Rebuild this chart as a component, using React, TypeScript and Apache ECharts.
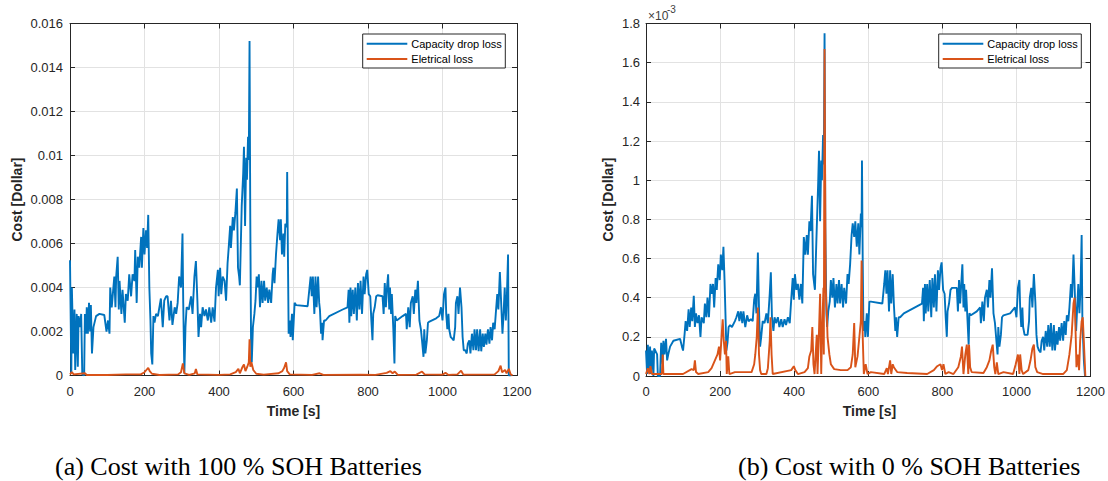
import React, { useEffect, useRef } from "react";
import * as echarts from "echarts";

// Values are in units of 1e-3 dollar, [time (s), value]
const leftCapacity: number[][] = [
  [0,5.24],[3.6,0.1],[5,4.0],[9,1.0],[12,3.0],[14,0.25],[18,2.8],[21,0.4],[23,2.7],[27,2.2],[30,2.8],[33,0.05],[38,0],[40,2.8],[43,1.9],[45,3.1],[48,1.9],[51,3.3],[54,2.0],[56,3.2],[59,1.0],[63,2.2],[70,2.7],[79,2.8],[92,2.75],[98,2.0],[102,2.5],[106,1.9],[108,4.0],[112,3.1],[115,3.7],[119,4.5],[122,3.1],[124,4.5],[128,5.4],[131,3.0],[133,4.3],[138,2.8],[141,3.9],[147,2.4],[150,3.7],[155,3.4],[159,4.6],[164,3.6],[168,4.6],[173,4.3],[175,5.7],[179,3.3],[182,5.4],[186,4.9],[191,6.3],[193,4.9],[197,6.7],[200,5.5],[204,6.6],[207,5.8],[210,7.3],[213,4.0],[216,2.5],[218,1.0],[221,0.5],[224,2.7],[227,2.4],[231,2.8],[236,2.7],[244,3.5],[249,2.2],[253,3.4],[258,3.6],[262,3.6],[267,2.5],[271,3.4],[275,2.3],[281,3.1],[285,2.8],[289,3.3],[293,4.5],[298,4.0],[302,6.45],[304,3.3],[307,0.1],[310,2.2],[313,3.1],[319,3.0],[325,3.6],[329,2.8],[334,4.5],[338,5.2],[342,3.4],[345,1.75],[349,2.8],[352,2.2],[356,3.1],[361,2.7],[365,3.0],[370,2.5],[374,3.1],[379,2.4],[383,3.1],[388,2.45],[392,4.0],[397,4.8],[399,3.6],[403,4.9],[406,3.7],[410,4.5],[415,4.3],[419,3.4],[423,5.1],[426,5.8],[430,6.8],[432,5.8],[437,7.2],[440,6.6],[444,7.4],[448,8.5],[451,4.9],[454,4.5],[456,4.1],[461,7.7],[465,9.2],[467,10.4],[470,6.8],[473,9.9],[475,8.9],[478,10.85],[480,9.8],[482,15.2],[484,7.1],[486,1.6],[488,0.6],[491,2.2],[495,2.8],[498,3.4],[501,4.5],[504,4.0],[507,4.6],[510,3.1],[514,4.3],[517,3.3],[521,4.3],[524,3.4],[528,4.0],[532,3.3],[535,3.9],[540,3.3],[544,4.6],[546,4.9],[549,4.2],[553,5.5],[557,6.45],[560,7.1],[564,6.15],[566,7.1],[569,5.5],[573,6.45],[575,5.4],[578,6.9],[582,6.75],[583,9.25],[585,5.5],[587,1.9],[590,2.5],[592,1.75],[596,2.8],[598,1.6],[603,3.3],[607,3.2],[638,3.15],[643,4.0],[646,4.5],[649,3.6],[652,4.5],[656,2.8],[659,4.5],[662,3.1],[666,4.5],[669,3.3],[671,3.0],[674,1.9],[677,2.4],[678,1.6],[682,2.5],[686,2.5],[696,2.7],[732,3.0],[745,3.1],[748,3.9],[750,2.4],[753,4.0],[755,2.7],[759,3.9],[762,2.8],[766,4.0],[770,2.5],[773,4.2],[777,3.0],[780,4.3],[784,2.8],[788,4.5],[791,3.7],[795,4.6],[798,4.8],[802,3.7],[806,3.6],[809,2.5],[812,1.6],[814,2.8],[818,3.1],[822,3.6],[826,3.65],[839,3.6],[842,2.8],[845,4.2],[848,3.1],[851,4.0],[854,4.6],[857,3.0],[859,4.0],[862,2.8],[864,3.7],[868,2.1],[871,0.55],[873,2.7],[877,2.5],[893,2.7],[902,2.8],[904,2.1],[908,3.1],[912,2.2],[915,3.3],[920,3.6],[923,2.8],[927,3.9],[930,3.3],[934,4.3],[938,2.5],[942,2.1],[945,1.6],[949,0.85],[951,2.1],[954,1.0],[958,1.6],[961,2.4],[965,2.45],[983,2.6],[991,2.7],[996,3.1],[1000,2.5],[1004,3.7],[1008,4.0],[1010,2.8],[1013,2.1],[1016,2.8],[1018,2.1],[1022,1.75],[1025,1.7],[1030,1.6],[1034,2.2],[1036,3.3],[1040,3.6],[1043,2.8],[1047,4.0],[1051,3.1],[1054,1.75],[1057,1.15],[1061,1.15],[1065,1.0],[1068,1.45],[1072,1.6],[1075,1.0],[1079,1.9],[1083,1.15],[1086,2.1],[1090,1.15],[1093,2.1],[1097,1.1],[1101,2.1],[1104,1.1],[1108,1.9],[1111,1.3],[1115,1.9],[1118,1.4],[1122,2.1],[1126,1.45],[1129,2.2],[1133,1.6],[1136,2.4],[1140,2.1],[1143,2.8],[1147,3.7],[1150,3.0],[1154,4.7],[1158,3.1],[1161,1.9],[1164,2.8],[1167,4.0],[1170,2.5],[1173,3.7],[1176,5.5],[1178,0],[1185,0]
];

const leftElectrical: number[][] = [
  [0,0.05],[5,0.15],[10,0.05],[40,0.1],[45,0.02],[100,0.02],[150,0.05],[190,0.05],[200,0.15],[205,0.25],[210,0.35],[214,0.2],[220,0.08],[240,0.02],[290,0.05],[298,0.15],[303,0.55],[307,0.1],[320,0.03],[335,0.1],[338,0.3],[342,0.05],[400,0.03],[430,0.05],[445,0.15],[452,0.3],[456,0.1],[462,0.35],[467,0.5],[471,0.2],[476,0.4],[480,0.6],[482,1.65],[484,0.4],[487,0.6],[492,0.25],[500,0.08],[520,0.04],[560,0.1],[570,0.2],[575,0.35],[580,0.6],[583,0.2],[590,0.05],[650,0.03],[670,0.1],[680,0.03],[780,0.04],[820,0.03],[850,0.12],[860,0.2],[866,0.1],[872,0.18],[880,0.03],[930,0.04],[945,0.18],[952,0.05],[1000,0.04],[1008,0.12],[1015,0.03],[1040,0.05],[1050,0.22],[1056,0.04],[1140,0.05],[1150,0.2],[1156,0.45],[1160,0.15],[1168,0.25],[1172,0.1],[1178,0.3],[1183,0.05],[1188,0.01]
];

const rightCapacity: number[][] = [
  [0,0.13],[3,0.01],[5,0.16],[8,0.03],[11,0.15],[13,0.01],[16,0.13],[20,0],[22,0.14],[25,0.13],[30,0.11],[32,0],[38,0],[41,0.17],[45,0.06],[47,0.18],[50,0.11],[54,0.19],[57,0.08],[60,0.11],[65,0.15],[74,0.18],[92,0.19],[97,0.15],[100,0.13],[104,0.21],[107,0.28],[111,0.23],[115,0.34],[118,0.25],[122,0.35],[125,0.28],[129,0.41],[132,0.25],[135,0.32],[139,0.27],[143,0.31],[147,0.2],[150,0.3],[156,0.27],[159,0.37],[163,0.3],[166,0.4],[170,0.3],[174,0.47],[177,0.42],[181,0.47],[184,0.35],[188,0.5],[191,0.44],[195,0.57],[199,0.49],[202,0.62],[206,0.54],[209,0.66],[212,0.49],[215,0.28],[217,0.13],[220,0.17],[223,0.25],[227,0.26],[232,0.25],[240,0.28],[244,0.3],[249,0.33],[252,0.28],[256,0.33],[260,0.27],[263,0.33],[268,0.25],[273,0.31],[277,0.28],[283,0.29],[288,0.28],[292,0.39],[295,0.42],[298,0.32],[302,0.63],[305,0.35],[308,0.15],[311,0.2],[315,0.28],[320,0.27],[325,0.32],[329,0.27],[334,0.42],[337,0.53],[340,0.3],[344,0.23],[347,0.3],[351,0.27],[356,0.3],[360,0.25],[365,0.29],[369,0.25],[374,0.29],[378,0.26],[383,0.3],[388,0.27],[392,0.39],[396,0.5],[399,0.39],[402,0.52],[406,0.44],[410,0.47],[414,0.39],[418,0.47],[422,0.37],[426,0.71],[430,0.62],[434,0.72],[437,0.62],[441,0.79],[444,0.74],[448,0.92],[451,0.52],[454,0.47],[456,0.44],[461,0.76],[465,1.0],[467,1.15],[470,0.79],[473,1.1],[475,1.0],[478,1.23],[480,1.08],[482,1.75],[484,0.76],[487,0.32],[489,0.25],[492,0.33],[496,0.38],[499,0.49],[503,0.4],[506,0.5],[510,0.35],[514,0.47],[517,0.37],[521,0.49],[524,0.37],[528,0.47],[532,0.35],[535,0.45],[540,0.37],[544,0.52],[547,0.47],[551,0.57],[555,0.72],[558,0.78],[562,0.71],[565,0.79],[569,0.66],[573,0.78],[576,0.62],[580,0.83],[582,0.76],[583,1.1],[585,0.59],[587,0.23],[590,0.28],[592,0.2],[596,0.32],[599,0.2],[603,0.38],[607,0.38],[638,0.37],[643,0.47],[646,0.54],[649,0.42],[652,0.54],[656,0.33],[659,0.54],[662,0.37],[666,0.52],[669,0.37],[673,0.23],[675,0.3],[678,0.2],[682,0.3],[686,0.3],[696,0.32],[745,0.37],[748,0.45],[750,0.28],[753,0.47],[755,0.32],[759,0.47],[762,0.33],[766,0.49],[770,0.3],[773,0.5],[777,0.35],[780,0.52],[784,0.33],[788,0.54],[791,0.44],[795,0.55],[798,0.58],[802,0.44],[806,0.42],[809,0.3],[812,0.2],[814,0.33],[818,0.37],[822,0.44],[826,0.45],[839,0.45],[842,0.33],[845,0.49],[848,0.37],[851,0.47],[854,0.57],[857,0.35],[859,0.47],[862,0.33],[864,0.44],[868,0.28],[871,0.16],[873,0.32],[877,0.31],[893,0.33],[902,0.35],[904,0.27],[908,0.38],[912,0.28],[915,0.4],[920,0.44],[923,0.35],[927,0.49],[930,0.4],[934,0.55],[938,0.32],[942,0.27],[945,0.2],[949,0.11],[951,0.25],[954,0.15],[958,0.21],[961,0.3],[965,0.31],[983,0.32],[996,0.35],[1000,0.3],[1004,0.45],[1008,0.49],[1010,0.35],[1013,0.25],[1016,0.35],[1018,0.25],[1022,0.21],[1030,0.21],[1034,0.28],[1036,0.4],[1040,0.45],[1043,0.35],[1047,0.52],[1051,0.38],[1054,0.21],[1057,0.15],[1061,0.13],[1065,0.12],[1068,0.18],[1072,0.2],[1075,0.13],[1079,0.23],[1083,0.15],[1086,0.26],[1090,0.15],[1093,0.27],[1097,0.13],[1101,0.26],[1104,0.13],[1108,0.23],[1111,0.16],[1115,0.25],[1118,0.18],[1122,0.27],[1126,0.18],[1129,0.28],[1133,0.21],[1136,0.31],[1140,0.28],[1143,0.35],[1147,0.47],[1150,0.4],[1154,0.62],[1158,0.4],[1161,0.23],[1164,0.35],[1167,0.47],[1170,0.32],[1173,0.45],[1176,0.72],[1178,0.28],[1182,0.08],[1185,0]
];

const rightElectrical: number[][] = [
  [0,0.01],[5,0.04],[9,0.01],[12,0.05],[16,0.01],[43,0.01],[45,0.11],[47,0.01],[100,0.01],[123,0.035],[129,0.03],[132,0.08],[135,0.02],[141,0.01],[168,0.02],[177,0.04],[186,0.08],[193,0.11],[197,0.15],[200,0.08],[204,0.2],[207,0.29],[210,0.18],[213,0.11],[216,0.18],[218,0.01],[222,0.1],[225,0.01],[240,0.02],[285,0.02],[292,0.06],[295,0.11],[299,0.2],[302,0.35],[305,0.11],[308,0.03],[311,0.01],[325,0.01],[329,0.04],[334,0.18],[336,0.3],[339,0.11],[342,0.01],[392,0.03],[399,0.05],[403,0.03],[410,0.01],[428,0.02],[437,0.04],[441,0.1],[446,0.13],[449,0.25],[452,0.06],[455,0.01],[458,0.11],[461,0.21],[463,0.01],[467,0.23],[470,0.42],[473,0.01],[475,0.2],[479,0.45],[480,0.11],[482,1.67],[485,0.45],[488,0.33],[490,0.2],[495,0.11],[499,0.06],[508,0.035],[526,0.03],[544,0.03],[553,0.045],[558,0.11],[562,0.27],[565,0.045],[571,0.1],[575,0.18],[580,0.28],[582,0.59],[585,0.2],[588,0.01],[593,0.06],[598,0.01],[607,0.02],[643,0.01],[650,0.04],[653,0.01],[659,0.08],[662,0.01],[666,0.06],[669,0.045],[678,0.02],[705,0.015],[759,0.01],[777,0.03],[786,0.05],[795,0.06],[799,0.03],[803,0.06],[808,0.01],[817,0.02],[830,0.01],[843,0.045],[850,0.1],[853,0.15],[857,0.01],[862,0.11],[866,0.16],[870,0.01],[872,0.16],[875,0.045],[879,0.02],[911,0.015],[920,0.045],[927,0.08],[932,0.13],[936,0.16],[940,0.045],[943,0.01],[947,0.07],[951,0.01],[965,0.02],[991,0.01],[998,0.06],[1004,0.11],[1008,0.01],[1010,0.11],[1014,0.03],[1018,0.01],[1032,0.03],[1038,0.08],[1043,0.14],[1047,0.16],[1051,0.045],[1056,0.02],[1072,0.01],[1108,0.01],[1126,0.01],[1136,0.03],[1143,0.11],[1149,0.21],[1154,0.37],[1157,0.4],[1160,0.2],[1162,0.045],[1166,0.11],[1169,0.03],[1172,0.18],[1176,0.28],[1179,0.3],[1183,0.13],[1186,0.0]
];

const seriesNames = ["Capacity drop loss", "Eletrical loss"];
const captions = ["(a) Cost with 100 % SOH Batteries", "(b) Cost with 0 % SOH Batteries"];
const xAxisTitle = "Time [s]";
const yAxisTitle = "Cost [Dollar]";
const exponentBase = "\u00d710";
const exponentPower = "-3";

const BLUE = "#0072BD";
const ORANGE = "#D95319";
const AXIS = "#262626";
const GRID = "#e2e2e2";
const SANS = "'Liberation Sans', Arial, Helvetica, sans-serif";
const SERIF = "'Liberation Serif', 'Times New Roman', serif";

export default function App() {
  const ref = useRef<HTMLDivElement>(null);

  useEffect(() => {
    if (!ref.current) return;
    const chart = echarts.init(ref.current, undefined, { renderer: "svg" });

    const grids = [
      { left: 70, top: 23.5, width: 447, height: 352 },
      { left: 646, top: 23.5, width: 447, height: 352.5 },
    ];
    const yRanges = [
      { max: 0.016, interval: 0.002 },
      { max: 1.8, interval: 0.2 },
    ];
    const legendLefts = [362.7, 938.7];

    const xAxes: any[] = [];
    const yAxes: any[] = [];
    grids.forEach((_, i) => {
      const base = {
        type: "value",
        gridIndex: i,
        min: 0,
        max: 1200,
        interval: 200,
        axisLine: { show: true, onZero: false, lineStyle: { color: AXIS, width: 1 } },
        axisTick: { show: true, inside: true, length: 5, lineStyle: { color: AXIS } },
      };
      xAxes.push({
        ...base,
        position: "bottom",
        axisLabel: { color: AXIS, fontSize: 13, fontFamily: SANS, margin: 9, formatter: (v: number) => String(v) },
        splitLine: { show: true, lineStyle: { color: GRID, width: 1 } },
      });
      xAxes.push({
        ...base,
        position: "top",
        axisLabel: { show: false },
        splitLine: { show: false },
      });
      const ybase = {
        type: "value",
        gridIndex: i,
        min: 0,
        max: yRanges[i].max,
        interval: yRanges[i].interval,
        axisLine: { show: true, onZero: false, lineStyle: { color: AXIS, width: 1 } },
        axisTick: { show: true, inside: true, length: 5, lineStyle: { color: AXIS } },
      };
      yAxes.push({
        ...ybase,
        position: "left",
        axisLabel: { color: AXIS, fontSize: 13, fontFamily: SANS, margin: i === 0 ? 7 : 6 },
        splitLine: { show: true, lineStyle: { color: GRID, width: 1 } },
      });
      yAxes.push({
        ...ybase,
        position: "right",
        axisLabel: { show: false },
        splitLine: { show: false },
      });
    });

    const scaleLeft = (d: number[][]) => d.map(([t, v]) => [t, v * 1e-3]);

    const mk = (name: string, data: number[][], gi: number, color: string) => ({
      name,
      type: "line",
      xAxisIndex: gi * 2,
      yAxisIndex: gi * 2,
      data,
      symbol: "none",
      showSymbol: false,
      lineStyle: { color, width: 1.9 },
      itemStyle: { color },
      emphasis: { disabled: true },
    });

    const legendGraphics: any[] = [];
    legendLefts.forEach((lx) => {
      legendGraphics.push({
        type: "rect",
        z: 100,
        shape: { x: lx, y: 34, width: 142.6, height: 34 },
        style: { fill: "#ffffff", stroke: AXIS, lineWidth: 1 },
      });
      [BLUE, ORANGE].forEach((c, k) => {
        const cy = 43.7 + k * 15.3;
        legendGraphics.push({
          type: "line",
          z: 101,
          shape: { x1: lx + 4, y1: cy, x2: lx + 44.6, y2: cy },
          style: { stroke: c, lineWidth: 2 },
        });
        legendGraphics.push({
          type: "text",
          z: 101,
          x: lx + 48.6,
          y: cy,
          style: { text: seriesNames[k], font: `11px ${SANS}`, fill: "#000", textAlign: "left", textVerticalAlign: "middle" },
        });
      });
    });

    const option: any = {
      animation: false,
      backgroundColor: "#ffffff",
      grid: grids,
      xAxis: xAxes,
      yAxis: yAxes,
      series: [
        mk(seriesNames[0], scaleLeft(leftCapacity), 0, BLUE),
        mk(seriesNames[1], scaleLeft(leftElectrical), 0, ORANGE),
        mk(seriesNames[0], rightCapacity, 1, BLUE),
        mk(seriesNames[1], rightElectrical, 1, ORANGE),
      ],
      graphic: [
        ...legendGraphics,
        { type: "text", x: 17, y: 199.5, rotation: Math.PI / 2, style: { text: yAxisTitle, font: `bold 14px ${SANS}`, fill: AXIS, textAlign: "center", textVerticalAlign: "middle" } },
        { type: "text", x: 608, y: 199.5, rotation: Math.PI / 2, style: { text: yAxisTitle, font: `bold 14px ${SANS}`, fill: AXIS, textAlign: "center", textVerticalAlign: "middle" } },
        { type: "text", x: 293.5, y: 411, style: { text: xAxisTitle, font: `bold 14px ${SANS}`, fill: AXIS, textAlign: "center", textVerticalAlign: "middle" } },
        { type: "text", x: 869.5, y: 411, style: { text: xAxisTitle, font: `bold 14px ${SANS}`, fill: AXIS, textAlign: "center", textVerticalAlign: "middle" } },
        { type: "text", x: 648, y: 16, style: { text: exponentBase, font: `12px ${SANS}`, fill: "#404040", textAlign: "left", textVerticalAlign: "middle" } },
        { type: "text", x: 667, y: 9, style: { text: exponentPower, font: `10px ${SANS}`, fill: "#404040", textAlign: "left", textVerticalAlign: "middle" } },
        { type: "text", x: 55, y: 466, style: { text: captions[0], font: `26px ${SERIF}`, fill: "#000", textAlign: "left", textVerticalAlign: "middle" } },
        { type: "text", x: 738, y: 466, style: { text: captions[1], font: `26px ${SERIF}`, fill: "#000", textAlign: "left", textVerticalAlign: "middle" } },
      ],
    };

    chart.setOption(option);
    return () => chart.dispose();
  }, []);

  return (
    <div
      ref={ref}
      style={{ position: "fixed", left: 0, top: 0, width: 1108, height: 481, background: "#fff" }}
    />
  );
}
